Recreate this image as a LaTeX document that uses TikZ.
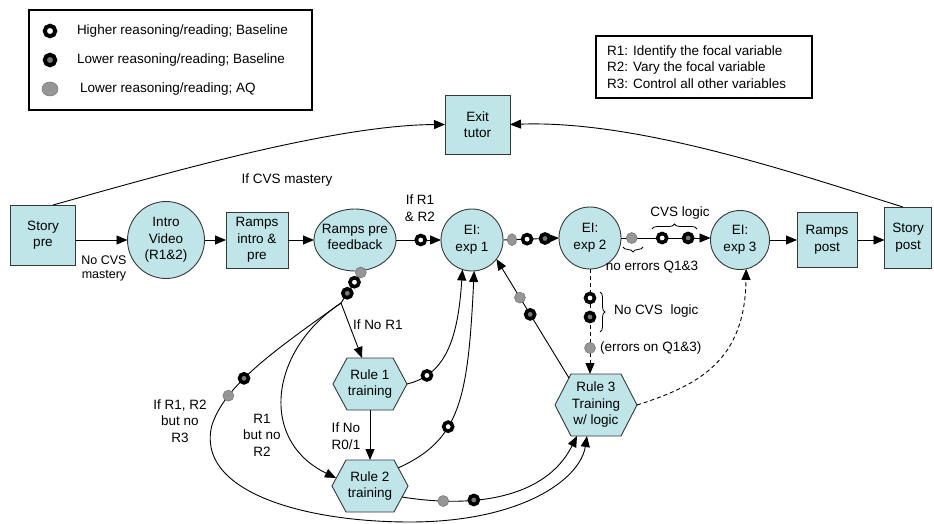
\documentclass[tikz,border=0pt]{standalone}
\usepackage{fontspec}
\setmainfont{Liberation Sans}
\usetikzlibrary{arrows.meta,calc,decorations.pathreplacing,shapes.geometric}
\definecolor{nodefill}{RGB}{191,229,232}
\definecolor{nodeline}{RGB}{55,55,55}
\definecolor{mgrayc}{RGB}{150,150,150}
\definecolor{mdarkc}{RGB}{120,120,120}
\begin{document}
\begin{tikzpicture}[x=1pt,y=-1pt,
  font=\fontsize{13.5}{16.5}\selectfont,
  every node/.style={inner sep=0pt, outer sep=0pt},
  flow/.style={draw=nodeline, fill=nodefill, line width=0.9pt, align=center},
  boxn/.style={flow, rectangle},
  circn/.style={flow, circle},
  hexn/.style={rectangle, align=center},
  hexdraw/.style={draw=nodeline, fill=nodefill, line width=0.9pt},
  conn/.style={draw=black, line width=0.9pt},
  arr/.style={conn, -{Triangle[length=11pt,width=9pt]}},
  darr/.style={arr, dash pattern=on 4pt off 3pt},
  mopen/.style={circle, solid, draw=black, fill=white, line width=3.6pt, minimum size=9pt},
  mdark/.style={circle, solid, draw=black, fill=mdarkc, line width=3.6pt, minimum size=9pt},
  mgray/.style={circle, solid, draw=black!55, fill=mgrayc, line width=0.5pt, minimum size=11pt},
  lbl/.style={align=center},
  brc/.style={draw=black, solid, line width=0.8pt, decorate, decoration={brace, amplitude=5pt}},
  legbox/.style={draw=black, line width=1.4pt, rectangle, anchor=north west},
]
\useasboundingbox (0,0) rectangle (934,524);

% legends
\node[legbox, minimum width=283pt, minimum height=100pt] (leg) at (29,10) {};
\node[mopen, minimum size=10.5pt, line width=4pt] (lg1) at (50,31) {};
\node[anchor=west] (lt1) at (77,31) {Higher reasoning/reading; Baseline};
\node[mdark, minimum size=10.5pt, line width=4pt] (lg2) at (50,60) {};
\node[anchor=west] (lt2) at (77,60) {Lower reasoning/reading; Baseline};
\node[mgray, ellipse, minimum width=16pt, minimum height=14pt] (lg3) at (50,89) {};
\node[anchor=west] (lt3) at (80,89) {Lower reasoning/reading; AQ};

\node[legbox, minimum width=216pt, minimum height=62pt] (rbox) at (596,36) {};
\node[anchor=west, align=left] (rtxt) at (607,67) {R1: Identify the focal variable\\R2: Vary the focal variable\\R3: Control all other variables};

% main row
\node[boxn, minimum width=65pt, minimum height=60pt] (sp) at (43,235) {Story\\pre};
\node[circn, minimum size=77pt] (iv) at (166,240) {Intro\\Video\\(R1\&2)};
\node[boxn, minimum width=62pt, minimum height=56pt] (ri) at (257,240) {Ramps\\intro \&\\pre};
\node[flow, ellipse, minimum width=82pt, minimum height=62pt] (rpf) at (355,240) {};
\node[align=center] (rpft) at (355,237) {Ramps pre\\feedback};
\node[circn, minimum size=62pt] (e1) at (472,240) {EI:\\exp 1};
\node[circn, minimum size=62pt] (e2) at (590,238) {EI:\\exp 2};
\node[circn, minimum size=59pt] (e3) at (740,240) {EI:\\exp 3};
\node[boxn, minimum width=60pt, minimum height=55pt] (rp) at (827,240) {Ramps\\post};
\node[boxn, minimum width=47pt, minimum height=61pt] (sp2) at (908,237.5) {Story\\post};
\node[boxn, minimum width=65pt, minimum height=59pt] (ex) at (477.5,124.5) {Exit\\tutor};

% hexagons
\filldraw[hexdraw] (333,384) -- (347,358) -- (393,358) -- (407,384) -- (393,410) -- (347,410) -- cycle;
\node[hexn, minimum width=74pt, minimum height=52pt] (r1) at (370,384) {Rule 1\\training};
\filldraw[hexdraw] (332,486) -- (346,460) -- (394,460) -- (408,486) -- (394,512) -- (346,512) -- cycle;
\node[hexn, minimum width=76pt, minimum height=52pt] (r2) at (370,486) {Rule 2\\training};
\filldraw[hexdraw] (555,405) -- (571,374) -- (621,374) -- (637,405) -- (621,436) -- (571,436) -- cycle;
\node[hexn, minimum width=82pt, minimum height=62pt] (r3) at (596,405) {Rule 3\\Training\\w/ logic};

\coordinate (J) at (341,303);

% main row connectors
\draw[arr] (sp.east |- iv.west) -- (iv.west);
\draw[arr] (iv.east) -- (ri.west);
\draw[arr] (ri.east) -- (rpf.west);
\draw[arr] (rpf.east) -- node[mopen, pos=0.55] (m1) {} (e1.west);
\draw[arr] (e1.east) -- node[mgray, ellipse, minimum width=9pt, minimum height=12pt, pos=0.16] (m2) {}
  node[mopen, pos=0.43] (m3) {} node[mdark, pos=0.75] (m4) {} (e2.east -| e2.west);
\draw[arr] (e2.east) -- node[mgray, pos=0.12] (m5) {} node[mopen, pos=0.46] (m6) {}
  node[mdark, pos=0.75] (m7) {} (e2.east -| e3.west);
\draw[arr] (e3.east) -- (rp.west);
\draw[arr] (rp.east) -- (rp.east -| sp2.west);

% exit connectors
\draw[arr] ($(sp.north)+(10,0)$) .. controls (150,178) and (330,125) .. (ex.west);
\draw[arr] ($(sp2.north)+(-5,0)$) .. controls (800,175) and (640,120) .. (ex.east);

% braces and labels on the top row
\draw[brc] (643,247) -- (623,247);
\draw[brc] (652,229) -- (697,229);
\node[lbl] (l7) at (680,213) {CVS logic};
\node[lbl] (l8) at (652,267) {no errors Q1\&3};
\node[lbl] (l9) at (420,208) {If R1\\\& R2};
\node[lbl, font=\fontsize{12.5}{14}\selectfont] (l5) at (104,268) {No CVS\\mastery};
\node[lbl] (l6) at (287,180) {If CVS mastery};

% from ramps pre feedback
\draw[conn] (rpf.-77) -- node[mgray, pos=0.06] (m8) {} node[mopen, pos=0.36] (m9) {}
  node[mdark, pos=0.7] (m10) {} (J);
\draw[arr] (J) -- ($(r1.north)+(-8,0)$);
\node[anchor=west] (l1) at (353,325) {If No R1};
\draw[arr] (J) .. controls (270,350) and (258,440) .. ($(r2.west)+(4,-8)$);
\draw[arr] (J) .. controls (275,350) and (225,385) .. node[mdark, pos=0.6] (m11) {}
  node[mgray, pos=0.75] (m12) {} (212,425) .. controls (195,490) and (300,522) .. (410,522)
  .. controls (520,522) and (580,480) .. ($(r3.south)+(-9,0)$);
\node[lbl] (l2) at (346,436) {If No\\R0/1};
\node[lbl] (l3) at (262,435) {R1\\but no\\R2};
\node[lbl] (l4) at (180,421) {If R1, R2\\but no\\R3};

% rule connectors
\draw[arr] (r1.south) -- (r2.north);
\draw[arr] (r1.east) .. controls (445,375) and (458,340) .. node[mopen, pos=0.2] (m13) {} (e1.-108);
\draw[arr] ($(r2.north east)+(-10,8)$) .. controls (460,440) and (468,400) .. node[mopen, pos=0.38] (m14) {} (e1.-86);
\draw[arr] ($(r2.east)+(-6,11)$) .. controls (470,508) and (545,500) .. node[mgray, pos=0.2] (m15) {}
  node[mdark, pos=0.35] (m16) {} ($(r3.south)+(-19,0)$);
\draw[arr] ($(r3.north west)+(14,4)$) -- node[mdark, pos=0.535] (m17) {} node[mgray, pos=0.676] (m18) {} (e1.-38);

% dashed connectors
\draw[darr] (e2.south) -- node[mopen, pos=0.276] (m19) {} node[mdark, pos=0.457] (m20) {}
  node[mgray, pos=0.752] (m21) {} (e2.south |- r3.north);
\draw[brc] (600,292) -- (600,332);
\node[anchor=west] (l10) at (614,311) {No CVS\hspace{4pt} logic};
\node[anchor=west] (l11) at (600,348) {(errors on Q1\&3)};
\draw[darr] (r3.east) .. controls (700,385) and (745,360) .. (e3.-78);
\end{tikzpicture}
\end{document}
